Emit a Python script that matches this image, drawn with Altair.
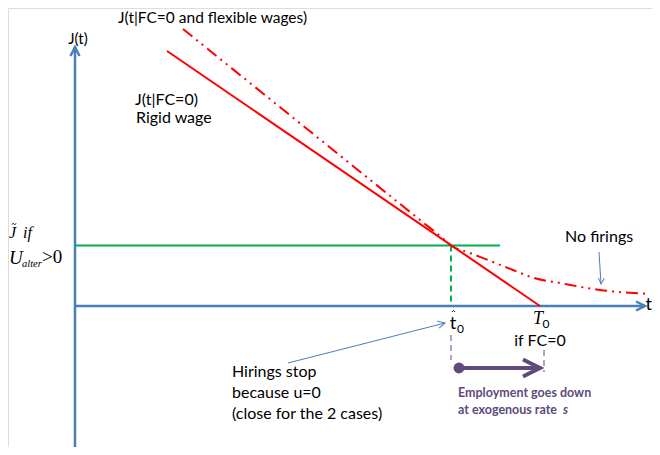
import altair as alt
import pandas as pd

# Diagram coordinates: t (horizontal), J (vertical); origin at axes crossing
rigid_t = [92, 465]
rigid_j = [255, 0]

flex_t = [108, 225, 345, 368, 376, 395, 418, 438, 459, 485, 525, 575]
flex_j = [277, 182.7, 86, 67.5, 60.5, 53, 44, 36, 28, 23, 16, 12]

j_tilde = 60.5      # green level
t_hat = 376         # hirings stop
T0 = 465            # J hits zero (FC=0)

SANS = "Lato"
SERIF = "Liberation Serif"
BLUE = "#4A7EBB"
RED = "#FF0000"
GREEN = "#00B050"
PURPLE = "#604A7B"
LPURPLE = "#B3A2C7"

W, H = 644, 439
xs = alt.Scale(domain=[-67, 577], nice=False, zero=False)
ys = alt.Scale(domain=[-141, 298], nice=False, zero=False)


def enc():
    return dict(x=alt.X("t:Q", scale=xs, axis=None), y=alt.Y("j:Q", scale=ys, axis=None))


def seg(t1, j1, t2, j2, **kw):
    df = pd.DataFrame({"t": [t1], "j": [j1], "t2": [t2], "j2": [j2]})
    return alt.Chart(df).mark_rule(**kw).encode(x2="t2:Q", y2="j2:Q", **enc())


def head(t, j, shape, size, color, sw, angle=0):
    df = pd.DataFrame({"t": [t], "j": [j]})
    return alt.Chart(df).mark_point(shape=shape, size=size, filled=False, color=color,
                                    strokeWidth=sw, angle=angle, opacity=1,
                                    strokeJoin="miter").encode(**enc())


def txt(t, j, s, size=16, font=SANS, align="left", color="#000000", style="normal", weight="normal"):
    df = pd.DataFrame({"t": [t], "j": [j], "s": [s]})
    return alt.Chart(df).mark_text(align=align, baseline="middle", fontSize=size, font=font,
                                   color=color, fontStyle=style, fontWeight=weight).encode(
        text="s:N", **enc())


RIGHT = "M-1,-0.5L0,0L-1,0.5"
UP = "M-0.5,1L0,0L0.5,1"
HAT = "M-1,0.6L0,-0.4L1,0.6"
TILDE = "M-1,0.3C-0.6,-0.5 -0.3,-0.4 0,0C0.3,0.4 0.6,0.5 1,-0.3"

layers = []
# axes
layers.append(seg(0, -141, 0, 259, color=BLUE, strokeWidth=2.5))
layers.append(seg(0, 0, 570, 0, color=BLUE, strokeWidth=2.5))
layers.append(head(0, 259, UP, 324, BLUE, 2.5))
layers.append(head(570, 0, RIGHT, 324, BLUE, 2.5))

# green level and drop line
layers.append(seg(0, j_tilde, 425, j_tilde, color=GREEN, strokeWidth=2))
layers.append(seg(t_hat, j_tilde, t_hat, 0, color=GREEN, strokeWidth=2, strokeDash=[6, 4]))

# rigid wage line
rig = pd.DataFrame({"t": rigid_t, "j": rigid_j})
layers.append(alt.Chart(rig).mark_line(color=RED, strokeWidth=2).encode(**enc()))

# flexible wage curve
flx = pd.DataFrame({"t": flex_t, "j": flex_j})
layers.append(alt.Chart(flx).mark_line(color=RED, strokeWidth=2, interpolate="monotone",
                                       strokeDash=[12, 5, 2, 5, 2, 5]).encode(**enc()))

# purple dashed markers and arrow
layers.append(seg(t_hat, -29, t_hat, -54, color=LPURPLE, strokeWidth=2, strokeDash=[6, 4]))
layers.append(seg(T0 + 4, -44, T0 + 4, -66, color=LPURPLE, strokeWidth=2, strokeDash=[6, 4]))
layers.append(seg(384, -62, 463, -62, color=PURPLE, strokeWidth=4))
layers.append(alt.Chart(pd.DataFrame({"t": [384], "j": [-62]})).mark_circle(
    size=120, color=PURPLE, opacity=1).encode(**enc()))
layers.append(head(465, -62, RIGHT, 1156, PURPLE, 4))

# thin annotation arrows
layers.append(seg(213, -57, 370, -17, color=BLUE, strokeWidth=1))
layers.append(head(370, -17, RIGHT, 196, BLUE, 1, angle=345.7))
layers.append(seg(524, 54, 526, 22, color=BLUE, strokeWidth=1))
layers.append(head(526, 22, RIGHT, 144, BLUE, 1, angle=93.6))

# texts
layers.append(txt(3, 267, "J(t)", size=15, align="center"))
layers.append(txt(43, 288, "J(t|FC=0 and flexible wages)", size=15.5))
layers.append(txt(60, 206, "J(t|FC=0)"))
layers.append(txt(61, 188, "Rigid wage"))
layers.append(txt(490, 69, "No firings"))
layers.append(txt(577, 1, "t", size=18, align="right"))
layers.append(txt(157, -66, "Hirings stop"))
layers.append(txt(157, -87, "because u=0"))
layers.append(txt(157, -108, "(close for the 2 cases)"))
layers.append(txt(465, -35, "if FC=0", align="center"))
layers.append(txt(378, -18, "t", size=18, align="center"))
layers.append(head(378.5, -5, HAT, 9, "#000000", 1))
layers.append(txt(385.5, -23, "0", size=12, align="center"))
layers.append(txt(463, -13, "T", size=18, font=SERIF, style="italic", align="center"))
layers.append(txt(471, -18, "0", size=12, align="center"))
layers.append(txt(383, -87, "Employment goes down", size=12.5, color=PURPLE, weight="bold"))
layers.append(txt(383, -104, "at exogenous rate", size=12.5, color=PURPLE, weight="bold"))
layers.append(txt(488, -104, "s", size=12.5, color=PURPLE, weight="bold", style="italic"))
layers.append(txt(-66, 73, "J", size=16, font=SERIF, style="italic"))
layers.append(head(-61, 82, TILDE, 16, "#000000", 1))
layers.append(txt(-52, 73, "if", size=16, font=SERIF, style="italic"))
layers.append(txt(-66, 48, "U", size=19, font=SERIF, style="italic"))
layers.append(txt(-53, 42, "alter", size=10.5, font=SERIF, style="italic"))
layers.append(txt(-33, 49, ">0", size=19, font=SERIF))

chart = alt.layer(*layers).properties(
    width=W, height=H, padding=0, autosize=alt.AutoSizeParams(type="none")
).configure_view(stroke=None).configure(background="white")

chart.save("out.html", embed_options={"renderer": "svg", "actions": False})
